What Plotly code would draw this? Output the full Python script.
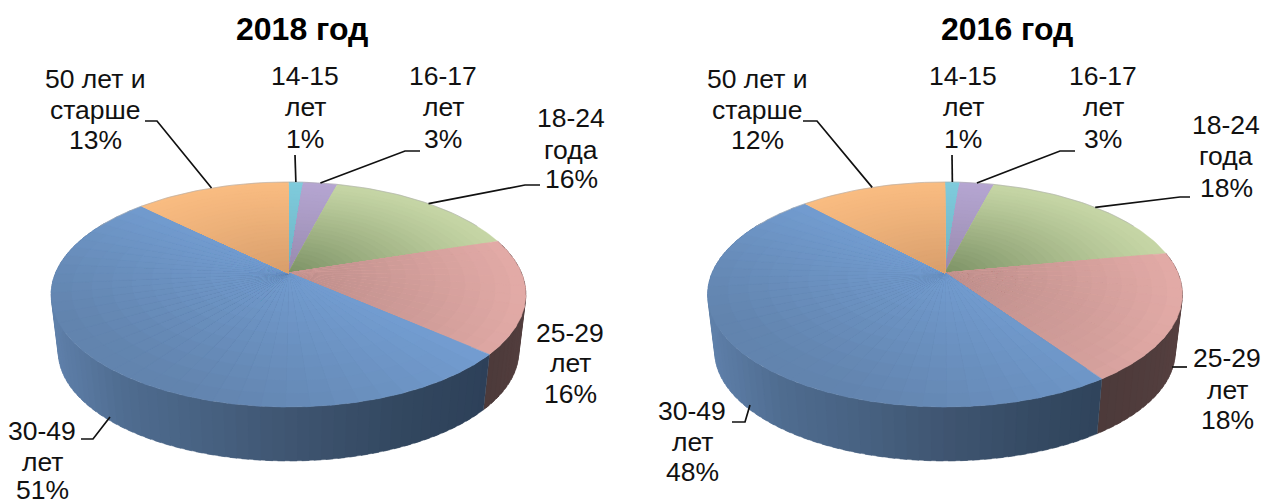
import math
import plotly.graph_objects as go

# ---- data ----
categories = ["14-15 лет", "16-17 лет", "18-24 года", "25-29 лет", "30-49 лет", "50 лет и старше"]
values_2018 = [1.2, 2.8, 16.0, 16.4, 50.9, 12.7]
values_2016 = [1.2, 2.8, 18.0, 18.4, 47.6, 12.0]
title_2018 = "2018 год"
title_2016 = "2016 год"

# ---- label text split per category ----
label_lines = [["14-15", "лет"], ["16-17", "лет"], ["18-24", "года"], ["25-29", "лет"], ["30-49", "лет"], ["50 лет и", "старше"]]

# ---- styling (rim colour, inner colour) ----
STYLE = [
    ("#7fcbdc", "#6cb0c2"),
    ("#b5a5d1", "#978aae"),
    ("#c6d6a6", "#7d9266"),
    ("#e3aba7", "#bd8e8b"),
    ("#739dd1", "#6284ae"),
    ("#f9bc81", "#d89e6c"),
]
WALL_BLUE = [(-1.0, "#5f80aa"), (-0.7, "#4f6c90"), (-0.3, "#46607f"), (0.0, "#3f5571"), (0.5, "#32475f"), (1.0, "#2b3d56")]
WALL_PINK = [(0.0, "#5d4444"), (1.0, "#4c3a3a")]
TEXT = "#111111"
FONT = "Liberation Sans, Arial, sans-serif"
A, B, K = 233.0, 108.4, 0.191
APEX_Y = 273.0
DEPTH, SHRINK = 58.0, 0.97


def hex_rgb(h):
    return tuple(int(h[i:i + 2], 16) for i in (1, 3, 5))


def mix(c1, c2, t):
    t = max(0.0, min(1.0, t))
    a, b = hex_rgb(c1), hex_rgb(c2)
    return "rgb(%d,%d,%d)" % tuple(round(a[i] + (b[i] - a[i]) * t) for i in range(3))


def ramp(stops, t):
    for (t0, c0), (t1, c1) in zip(stops[:-1], stops[1:]):
        if t <= t1:
            return mix(c0, c1, (t - t0) / (t1 - t0))
    return mix(stops[-1][1], stops[-1][1], 0)


def project(cx, deg, r=1.0, lower=False):
    """Perspective projection of a point of the disc; deg is clockwise from 12 o'clock."""
    u = r * math.sin(math.radians(deg))
    v = r * math.cos(math.radians(deg))
    w = 1 + K * v
    x, y = A * u / w, -B * v / w
    if lower:
        return cx + x * SHRINK, APEX_Y + DEPTH + y * SHRINK
    return cx + x, APEX_Y + y


def steps(a0, a1, size):
    n = max(1, math.ceil((a1 - a0) / size))
    return [a0 + (a1 - a0) * i / n for i in range(n + 1)]


def poly(fig, pts, color, name):
    xs = [p[0] for p in pts] + [pts[0][0]]
    ys = [p[1] for p in pts] + [pts[0][1]]
    fig.add_trace(go.Scatter(x=xs, y=ys, mode="lines", fill="toself", fillcolor=color,
                             line=dict(color=color, width=0.4), hoverinfo="skip",
                             name=name, showlegend=False))


def top_shade(idx, deg, r):
    u = r * math.sin(math.radians(deg))
    v = r * math.cos(math.radians(deg))
    if idx == 4:
        return 0.75 * u * -1 - 0.75 * v + 0.05
    if idx == 3:
        return (1 - r) * 1.0 + 0.4 * max(0, -v) * (1 - max(0, u - 0.55) * 2.2)
    return (1 - r) ** 1.2


def draw_pie(fig, cx, values):
    total = sum(values)
    edges = [0.0]
    for val in values:
        edges.append(edges[-1] + 360.0 * val / total)
    # outer wall, front half (each strip overlaps the next one, so no seams show)
    for i, name in enumerate(categories):
        a0, a1 = max(edges[i], 60), min(edges[i + 1], 300)
        if a1 <= a0 or i not in (3, 4):
            continue
        sq = steps(a0, a1, 2.5)
        for s0, s1 in zip(sq[:-1], sq[1:]):
            xm = (project(cx, (s0 + s1) / 2)[0] - cx) / 238
            col = ramp(WALL_BLUE, xm) if i == 4 else ramp(WALL_PINK, (s0 - a0) / (a1 - a0))
            s2 = min(s1 + 1.5, a1)
            poly(fig, [project(cx, s0), project(cx, s2), project(cx, s2, lower=True), project(cx, s0, lower=True)], col, name)
    # top face: nested wedges painted from the rim inwards
    for i, name in enumerate(categories):
        span = edges[i + 1] - edges[i]
        size = 5 if i in (3, 4) else span
        bands = 12 if i == 4 else (16 if i == 3 else 26)
        sq = steps(edges[i], edges[i + 1], size)
        for s0, s1 in zip(sq[:-1], sq[1:]):
            s2 = min(s1 + 1, edges[i + 1])
            arc = steps(s0, s2, 1.5)
            for b in range(bands, 0, -1):
                r1 = b / bands
                col = mix(STYLE[i][0], STYLE[i][1], top_shade(i, (s0 + s1) / 2, r1 - 0.5 / bands))
                poly(fig, [project(cx, 0, 0)] + [project(cx, a, r1) for a in arc], col, name)
    # pale rim at the back of the disc
    rim = [project(cx, a) for a in steps(-62, 62, 2)]
    fig.add_trace(go.Scatter(x=[p[0] for p in rim], y=[p[1] for p in rim], mode="lines",
                             line=dict(color="rgba(170,170,170,0.55)", width=1), hoverinfo="skip", showlegend=False))
    return edges


def leader(fig, cx, edges, i, elbows, on_rim):
    pts = list(elbows)
    if on_rim:
        pts.append(project(cx, (edges[i] + edges[i + 1]) / 2))
    fig.add_trace(go.Scatter(x=[p[0] for p in pts], y=[p[1] for p in pts], mode="lines",
                             line=dict(color="#111111", width=1.7), hoverinfo="skip", showlegend=False))


def add_label(fig, x, ys, lines):
    for y, line in zip(ys, lines):
        fig.add_annotation(x=x, y=y, text=line, showarrow=False, xanchor="center", yanchor="middle",
                           font=dict(family=FONT, size=26.5, color=TEXT))


fig = go.Figure()
PIES = [
    dict(cx=288.5, values=values_2018, title=title_2018, tx=302,
         leaders={5: ([(145, 121), (157, 121)], True), 0: ([(295, 155)], True), 1: ([(420, 151), (405, 151)], True),
                  2: ([(540, 185), (525, 185)], True), 4: ([(81, 439), (93, 439), (110, 417)], False)},
         labels={5: (95, (79, 110, 140)), 0: (305, (76, 107, 139)), 1: (443, (76, 107, 139)),
                 2: (571, (118, 150, 179)), 3: (570, (333, 363, 394)), 4: (42, (431, 462, 490))}),
    dict(cx=945, values=values_2016, title=title_2016, tx=1007,
         leaders={5: ([(803, 121), (817, 121)], True), 0: ([(952, 155)], True), 1: ([(1075, 151), (1060, 151)], True),
                  2: ([(1190, 197), (1180, 197)], True), 4: ([(732, 422), (745, 422), (750, 405)], False),
                  3: ([(1187, 367), (1172, 367)], False)},
         labels={5: (757, (79, 110, 140)), 0: (963, (76, 107, 139)), 1: (1103, (76, 107, 139)),
                 2: (1226, (125, 156, 188)), 3: (1227, (358, 390, 420)), 4: (692, (411, 442, 472))}),
]
for pie in PIES:
    edges = draw_pie(fig, pie["cx"], pie["values"])
    for i, (elbows, on_rim) in pie["leaders"].items():
        leader(fig, pie["cx"], edges, i, elbows, on_rim)
    for i, (x, ys) in pie["labels"].items():
        add_label(fig, x, ys, label_lines[i] + ["%d%%" % round(pie["values"][i])])
    fig.add_annotation(x=pie["tx"], y=29, text="<b>%s</b>" % pie["title"], showarrow=False,
                       font=dict(family=FONT, size=32, color="#000000"))

fig.update_layout(width=1263, height=501, margin=dict(l=0, r=0, t=0, b=0), paper_bgcolor="white",
                  plot_bgcolor="white", showlegend=False, autosize=False, hovermode=False,
                  xaxis=dict(range=[0, 1263], visible=False, fixedrange=True),
                  yaxis=dict(range=[501, 0], visible=False, fixedrange=True))
fig.write_html("out.html", config=dict(displayModeBar=False),
               post_script="document.body.style.margin='0';document.body.style.overflow='hidden';")
